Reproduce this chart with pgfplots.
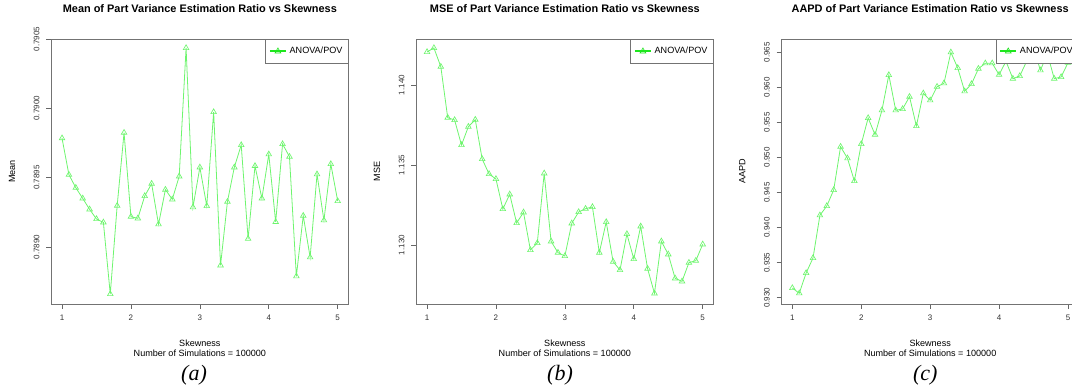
\documentclass[border=0pt]{standalone}
\usepackage{fontspec}
\setmainfont{Liberation Sans}
\newfontfamily\capfont{Liberation Serif}
\usepackage{pgfplots}
\pgfplotsset{compat=1.18}
\definecolor{pg}{RGB}{110,245,110}
\definecolor{lg}{RGB}{30,230,30}
\newcommand{\ticksz}{\fontsize{6}{7}\selectfont}
\newcommand{\labsz}{\fontsize{6.8}{8}\selectfont}
\pgfplotsset{
  rstyle/.style={
    scale only axis, width=223.3pt, height=198.75pt,
    clip mode=individual,
    xmin=0.84, xmax=5.16,
    xtick={1,2,3,4,5}, xticklabels={1,2,3,4,5},
    tick pos=left, tick align=outside,
    major tick length=3.6pt,
    axis line style={black!55, line width=0.6pt},
    every tick/.style={black!60, line width=0.5pt},
    tick label style={font=\ticksz, text=black!80},
    yticklabel style={rotate=90, anchor=south},
    yticklabel shift=1.5pt,
    xticklabel style={anchor=base},
    xticklabel shift=9pt,
    title style={font=\bfseries\fontsize{8.2}{9}\selectfont, at={(axis description cs:0.5,1.0694)}, anchor=base},
    xlabel style={font=\labsz, at={(axis description cs:0.5,-0.1604)}, anchor=base},
    ylabel style={font=\labsz, at={(axis description cs:-0.1209,0.5)}, anchor=base},
    legend style={at={(1,1)}, anchor=north east, draw=black!55, line width=0.5pt, font=\labsz, inner xsep=2.5pt, inner ysep=3.8pt},
    legend cell align=left,
    legend image code/.code={
      \draw[lg, line width=1.4pt] (0pt,0pt) -- (12.2pt,0pt);
      \draw[lg, line width=0.6pt, only marks, mark=triangle, mark size=2.5pt] plot coordinates {(6.1pt,0pt)};
    },
  },
  rline/.style={color=pg, line width=0.6pt, mark=triangle, mark size=2.4pt, mark options={solid, line width=0.5pt}},
}
\begin{document}
\begin{tikzpicture}
\begin{axis}[rstyle, at={(38.25pt,63pt)}, anchor=south west,
  ymin=0.788588, ymax=0.7905,
  ytick={0.7890,0.7895,0.7900,0.7905}, yticklabels={0.7890,0.7895,0.7900,0.7905},
  title={Mean of Part Variance Estimation Ratio vs Skewness},
  xlabel={Skewness}, ylabel={Mean}]
\addplot[rline] coordinates {
(1.0,0.789784) (1.1,0.789521) (1.2,0.789427) (1.3,0.789350) (1.4,0.789271)
(1.5,0.789201) (1.6,0.789177) (1.7,0.788660) (1.8,0.789297) (1.9,0.789824)
(2.0,0.789218) (2.1,0.789206) (2.2,0.789367) (2.3,0.789456) (2.4,0.789163)
(2.5,0.789413) (2.6,0.789343) (2.7,0.789509) (2.8,0.790435) (2.9,0.789286)
(3.0,0.789574) (3.1,0.789295) (3.2,0.789973) (3.3,0.788867) (3.4,0.789326)
(3.5,0.789574) (3.6,0.789735) (3.7,0.789059) (3.8,0.789584) (3.9,0.789350)
(4.0,0.789668) (4.1,0.789180) (4.2,0.789742) (4.3,0.789651) (4.4,0.788788)
(4.5,0.789225) (4.6,0.788925) (4.7,0.789524) (4.8,0.789192) (4.9,0.789598)
(5.0,0.789331)};
\addlegendentry{ANOVA/POV}
\node[font=\labsz, anchor=base] at (axis description cs:0.5,-0.2) {Number of Simulations = 100000};
\end{axis}
\begin{axis}[rstyle, at={(312pt,63pt)}, anchor=south west,
  ymin=1.1263125, ymax=1.142875,
  ytick={1.130,1.135,1.140}, yticklabels={1.130,1.135,1.140},
  title={MSE of Part Variance Estimation Ratio vs Skewness},
  xlabel={Skewness}, ylabel={MSE}]
\addplot[rline] coordinates {
(1.0,1.142063) (1.1,1.142313) (1.2,1.141146) (1.3,1.137958) (1.4,1.137813)
(1.5,1.136250) (1.6,1.137396) (1.7,1.137833) (1.8,1.135375) (1.9,1.134437)
(2.0,1.134125) (2.1,1.132250) (2.2,1.133167) (2.3,1.131375) (2.4,1.132042)
(2.5,1.129687) (2.6,1.130125) (2.7,1.134479) (2.8,1.130229) (2.9,1.129521)
(3.0,1.129312) (3.1,1.131354) (3.2,1.132062) (3.3,1.132271) (3.4,1.132375)
(3.5,1.129521) (3.6,1.131437) (3.7,1.128958) (3.8,1.128437) (3.9,1.130687)
(4.0,1.129125) (4.1,1.131167) (4.2,1.128521) (4.3,1.126979) (4.4,1.130229)
(4.5,1.129417) (4.6,1.127917) (4.7,1.127729) (4.8,1.128896) (4.9,1.129021)
(5.0,1.130042)};
\addlegendentry{ANOVA/POV}
\node[font=\labsz, anchor=base] at (axis description cs:0.5,-0.2) {Number of Simulations = 100000};
\end{axis}
\begin{axis}[rstyle, at={(585.98pt,63pt)}, anchor=south west,
  ymin=0.929102, ymax=0.966873,
  ytick={0.930,0.935,0.940,0.945,0.950,0.955,0.960,0.965}, yticklabels={0.930,0.935,0.940,0.945,0.950,0.955,0.960,0.965},
  title={AAPD of Part Variance Estimation Ratio vs Skewness},
  xlabel={Skewness}, ylabel={AAPD}]
\addplot[rline] coordinates {
(1.0,0.931383) (1.1,0.930627) (1.2,0.933521) (1.3,0.935659) (1.4,0.941745)
(1.5,0.943070) (1.6,0.945351) (1.7,0.951523) (1.8,0.949869) (1.9,0.946634)
(2.0,0.951907) (2.1,0.955613) (2.2,0.953233) (2.3,0.956710) (2.4,0.961742)
(2.5,0.956710) (2.6,0.956896) (2.7,0.958649) (2.8,0.954473) (2.9,0.959133)
(3.0,0.958135) (3.1,0.960074) (3.2,0.960558) (3.3,0.964977) (3.4,0.962740)
(3.5,0.959418) (3.6,0.960459) (3.7,0.962640) (3.8,0.963410) (3.9,0.963410)
(4.0,0.961785) (4.1,0.963700) (4.2,0.961215) (4.3,0.961600) (4.4,0.963700)
(4.5,0.965500) (4.6,0.962412) (4.7,0.964800) (4.8,0.961215) (4.9,0.961457)
(5.0,0.963496)};
\addlegendentry{ANOVA/POV}
\node[font=\labsz, anchor=base] at (axis description cs:0.5,-0.2) {Number of Simulations = 100000};
\end{axis}
\node[font=\capfont\itshape\fontsize{16.5}{18}\selectfont, anchor=base] at (145.5pt,5.25pt) {(a)};
\node[font=\capfont\itshape\fontsize{16.5}{18}\selectfont, anchor=base] at (420pt,5.25pt) {(b)};
\node[font=\capfont\itshape\fontsize{16.5}{18}\selectfont, anchor=base] at (694pt,5.25pt) {(c)};
\pgfresetboundingbox
\useasboundingbox (0pt,0pt) rectangle (804pt,291pt);
\end{tikzpicture}
\end{document}
